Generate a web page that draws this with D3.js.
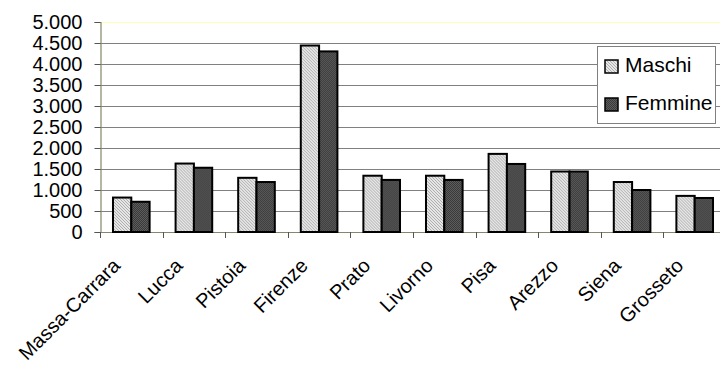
<!DOCTYPE html>
<html>
<head>
<meta charset="utf-8">
<script src="https://cdn.jsdelivr.net/npm/d3@7/dist/d3.min.js"></script>
<style>
  html, body { margin: 0; padding: 0; background: #fff; }
  svg { display: block; font-family: "Liberation Sans", Arial, sans-serif; }
</style>
</head>
<body>
<svg id="chart" width="720" height="367"></svg>
<script>
// Province names along the x axis
const categories = ["Massa-Carrara", "Lucca", "Pistoia", "Firenze", "Prato",
                    "Livorno", "Pisa", "Arezzo", "Siena", "Grosseto"];
const seriesNames = ["Maschi", "Femmine"];
const maschi  = [820, 1630, 1290, 4440, 1340, 1340, 1860, 1440, 1190, 860];
const femmine = [720, 1530, 1190, 4300, 1240, 1240, 1620, 1440, 1000, 810];
const yTicks = [0, 500, 1000, 1500, 2000, 2500, 3000, 3500, 4000, 4500, 5000];
const yTickLabels = ["0", "500", "1.000", "1.500", "2.000", "2.500",
                     "3.000", "3.500", "4.000", "4.500", "5.000"];

const svg = d3.select("#chart");
const defs = svg.append("defs");

// Light hatched fill for the first series
const p1 = defs.append("pattern").attr("id", "fillM")
  .attr("patternUnits", "userSpaceOnUse").attr("width", 3).attr("height", 3);
p1.append("rect").attr("width", 3).attr("height", 3).attr("fill", "#e6e6e6");
p1.append("path").attr("d", "M0,0 L3,3 M-1,2 L1,4 M2,-1 L4,1")
  .attr("stroke", "#a8a8a8").attr("stroke-width", 0.9);

// Dark dotted fill for the second series
const p2 = defs.append("pattern").attr("id", "fillF")
  .attr("patternUnits", "userSpaceOnUse").attr("width", 2).attr("height", 2);
p2.append("rect").attr("width", 2).attr("height", 2).attr("fill", "#5c5c5c");
p2.append("rect").attr("width", 1).attr("height", 1).attr("fill", "#3a3a3a");
p2.append("rect").attr("x", 1).attr("y", 1).attr("width", 1).attr("height", 1).attr("fill", "#3a3a3a");

const fills = ["url(#fillM)", "url(#fillF)"];
const values = [maschi, femmine];

const x0 = d3.scaleBand().domain(categories).range([100, 726])
  .paddingInner(0.415).paddingOuter(0.2075);
const x1 = d3.scaleBand().domain(seriesNames).range([0, x0.bandwidth()]);
const y = d3.scaleLinear().domain([0, 5000]).range([232, 22]);

// Horizontal gridlines
svg.append("g").selectAll("line")
  .data(yTicks.filter(v => v > 0 && v < 5000))
  .join("line")
  .attr("x1", 100).attr("x2", 726)
  .attr("y1", d => Math.round(y(d)) + 0.5).attr("y2", d => Math.round(y(d)) + 0.5)
  .attr("stroke", "#808080").attr("stroke-width", 1);

// Pale top border of the plot area
svg.append("line")
  .attr("x1", 100).attr("x2", 726)
  .attr("y1", Math.round(y(5000)) + 0.5).attr("y2", Math.round(y(5000)) + 0.5)
  .attr("stroke", "#ffffb8").attr("stroke-width", 1.2);

// Y axis
const yAxis = d3.axisLeft(y).tickValues(yTicks)
  .tickFormat((d, i) => yTickLabels[i]).tickSize(6).tickPadding(12);
const gy = svg.append("g").attr("transform", "translate(100.5,0)").call(yAxis);
gy.select(".domain").attr("stroke", "#86866a").attr("stroke-width", 1.2);
gy.selectAll(".tick line").attr("stroke", "#555");
gy.selectAll(".tick text").attr("font-size", 20).attr("fill", "#000")
  .attr("font-family", "Liberation Sans, Arial, sans-serif");

// X axis baseline and category boundary ticks
const boundaries = categories.map(c => x0(c) - x0.step() * x0.paddingInner() / 2)
  .concat([x0(categories[categories.length - 1]) + x0.bandwidth() + x0.step() * x0.paddingInner() / 2]);
svg.append("line")
  .attr("x1", 100).attr("x2", 726).attr("y1", y(0) + 0.5).attr("y2", y(0) + 0.5)
  .attr("stroke", "#86866a").attr("stroke-width", 1.2);
svg.append("g").selectAll("line").data(boundaries).join("line")
  .attr("x1", d => Math.round(d) + 0.5).attr("x2", d => Math.round(d) + 0.5)
  .attr("y1", y(0)).attr("y2", y(0) + 6)
  .attr("stroke", "#555");

// Bars
const groups = svg.append("g").selectAll("g").data(categories).join("g")
  .attr("transform", c => `translate(${x0(c)},0)`);
groups.selectAll("rect")
  .data((c, i) => seriesNames.map((s, k) => ({ s, k, v: values[k][i] })))
  .join("rect")
  .attr("x", d => x1(d.s))
  .attr("y", d => y(d.v))
  .attr("width", x1.bandwidth())
  .attr("height", d => y(0) - y(d.v))
  .attr("fill", d => fills[d.k])
  .attr("stroke", "#000").attr("stroke-width", 2);

// Category labels, rotated
svg.append("g").selectAll("text").data(categories).join("text")
  .attr("transform", c => `translate(${x0(c) + x0.bandwidth() / 2 - 10},${y(0) + 35}) rotate(-45)`)
  .attr("text-anchor", "end")
  .attr("font-size", 20)
  .attr("fill", "#000")
  .text(c => c);

// Legend
const lg = svg.append("g");
lg.append("rect").attr("x", 597.5).attr("y", 46.5).attr("width", 118).attr("height", 77)
  .attr("fill", "#fff").attr("stroke", "#808080").attr("stroke-width", 1);
seriesNames.forEach((s, k) => {
  const top = k === 0 ? 60 : 98;
  lg.append("rect").attr("x", 605).attr("y", top).attr("width", 13).attr("height", 13)
    .attr("fill", fills[k]).attr("stroke", "#000").attr("stroke-width", 1.5);
  lg.append("text").attr("x", 625).attr("y", top + 12).attr("font-size", 21)
    .attr("fill", "#000").text(s);
});
</script>
</body>
</html>
